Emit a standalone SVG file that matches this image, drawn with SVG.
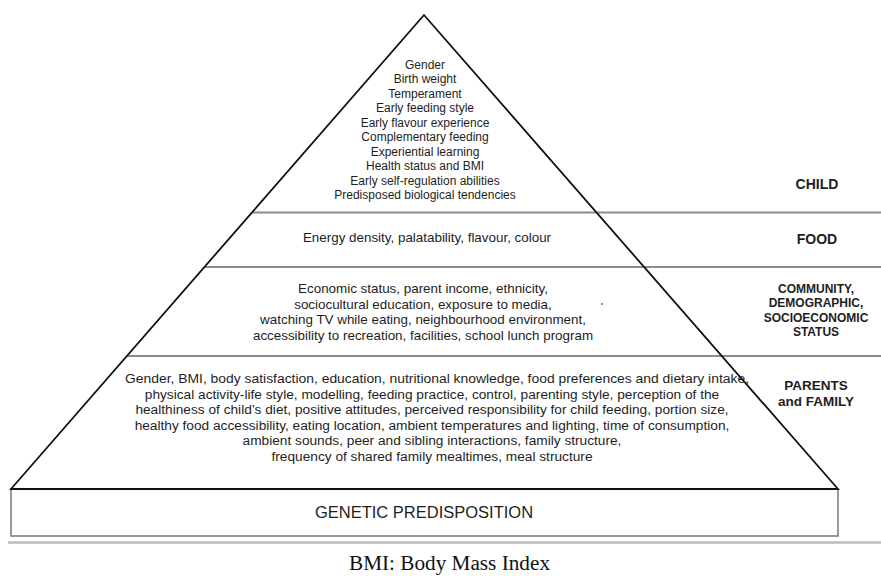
<svg xmlns="http://www.w3.org/2000/svg" width="881" height="576" viewBox="0 0 881 576">
<style>
.t{font-family:"Liberation Sans",Arial,sans-serif;fill:#1e1e1e;text-anchor:middle}
.c{font-size:12px}
.m{font-size:13.4px}
.p{font-size:13.7px}
.lb{font-family:"Liberation Sans",Arial,sans-serif;font-weight:bold;fill:#1e1e1e;text-anchor:middle}
.sep{stroke:#8c8c8c;stroke-width:2;fill:none}
.tri{stroke:#111;stroke-width:1.8;fill:none;stroke-linejoin:miter}
</style>
<rect width="881" height="576" fill="#fff"/>
<g id="connectors">
<line class="sep" x1="252" y1="212.5" x2="881" y2="212.5"/>
<line class="sep" x1="205" y1="267" x2="881" y2="267"/>
<line class="sep" x1="127" y1="356" x2="881" y2="356"/>
<rect x="11" y="489" width="827" height="47" fill="none" stroke="#777" stroke-width="1.5"/>
<polygon class="tri" points="424,15 11,489 838,489"/>
<line x1="8" y1="542.5" x2="881" y2="542.5" stroke="#bdbdbd" stroke-width="2.5"/>
</g>
<g id="child">
<text class="t c" x="425" y="68.5">Gender</text>
<text class="t c" x="425" y="83">Birth weight</text>
<text class="t c" x="425" y="97.5">Temperament</text>
<text class="t c" x="425" y="112">Early feeding style</text>
<text class="t c" x="425" y="126.5">Early flavour experience</text>
<text class="t c" x="425" y="141">Complementary feeding</text>
<text class="t c" x="425" y="155.5">Experiential learning</text>
<text class="t c" x="425" y="170">Health status and BMI</text>
<text class="t c" x="425" y="184.5">Early self-regulation abilities</text>
<text class="t c" x="425" y="199">Predisposed biological tendencies</text>
<text class="lb" x="817" y="189" font-size="14">CHILD</text>
</g>
<g id="food">
<text class="t m" x="427" y="242">Energy density, palatability, flavour, colour</text>
<text class="lb" x="817" y="244" font-size="14">FOOD</text>
</g>
<g id="community">
<text class="t m" x="423" y="293">Economic status, parent income, ethnicity,</text>
<text class="t m" x="423" y="308.6">sociocultural education, exposure to media,</text>
<text class="t m" x="423" y="324.2">watching TV while eating, neighbourhood environment,</text>
<text class="t m" x="423" y="339.8">accessibility to recreation, facilities, school lunch program</text>
<circle cx="602" cy="304" r="0.9" fill="#555"/>
<text class="lb" x="816" y="292.5" font-size="12">COMMUNITY,</text>
<text class="lb" x="816" y="307" font-size="12">DEMOGRAPHIC,</text>
<text class="lb" x="816" y="321.5" font-size="12">SOCIOECONOMIC</text>
<text class="lb" x="816" y="336" font-size="12">STATUS</text>
</g>
<g id="parents">
<text class="t p" x="437" y="383" textLength="624" lengthAdjust="spacingAndGlyphs">Gender, BMI, body satisfaction, education, nutritional knowledge, food preferences and dietary intake,</text>
<text class="t p" x="432" y="398.6">physical activity-life style, modelling, feeding practice, control, parenting style, perception of the</text>
<text class="t p" x="432" y="414.2">healthiness of child’s diet, positive attitudes, perceived responsibility for child feeding, portion size,</text>
<text class="t p" x="432" y="429.8">healthy food accessibility, eating location, ambient temperatures and lighting, time of consumption,</text>
<text class="t p" x="432" y="445.4">ambient sounds, peer and sibling interactions, family structure,</text>
<text class="t p" x="432" y="461">frequency of shared family mealtimes, meal structure</text>
<text class="lb" x="816" y="390" font-size="13.5">PARENTS</text>
<text class="lb" x="816" y="405.7" font-size="13.5">and FAMILY</text>
</g>
<g id="genetic">
<text class="t" x="424" y="518" font-size="16.5">GENETIC PREDISPOSITION</text>
</g>
<g id="caption">
<text x="449.5" y="570" font-family="'Liberation Serif','Times New Roman',serif" font-size="20" fill="#111" text-anchor="middle" textLength="201" lengthAdjust="spacingAndGlyphs">BMI: Body Mass Index</text>
</g>
</svg>
